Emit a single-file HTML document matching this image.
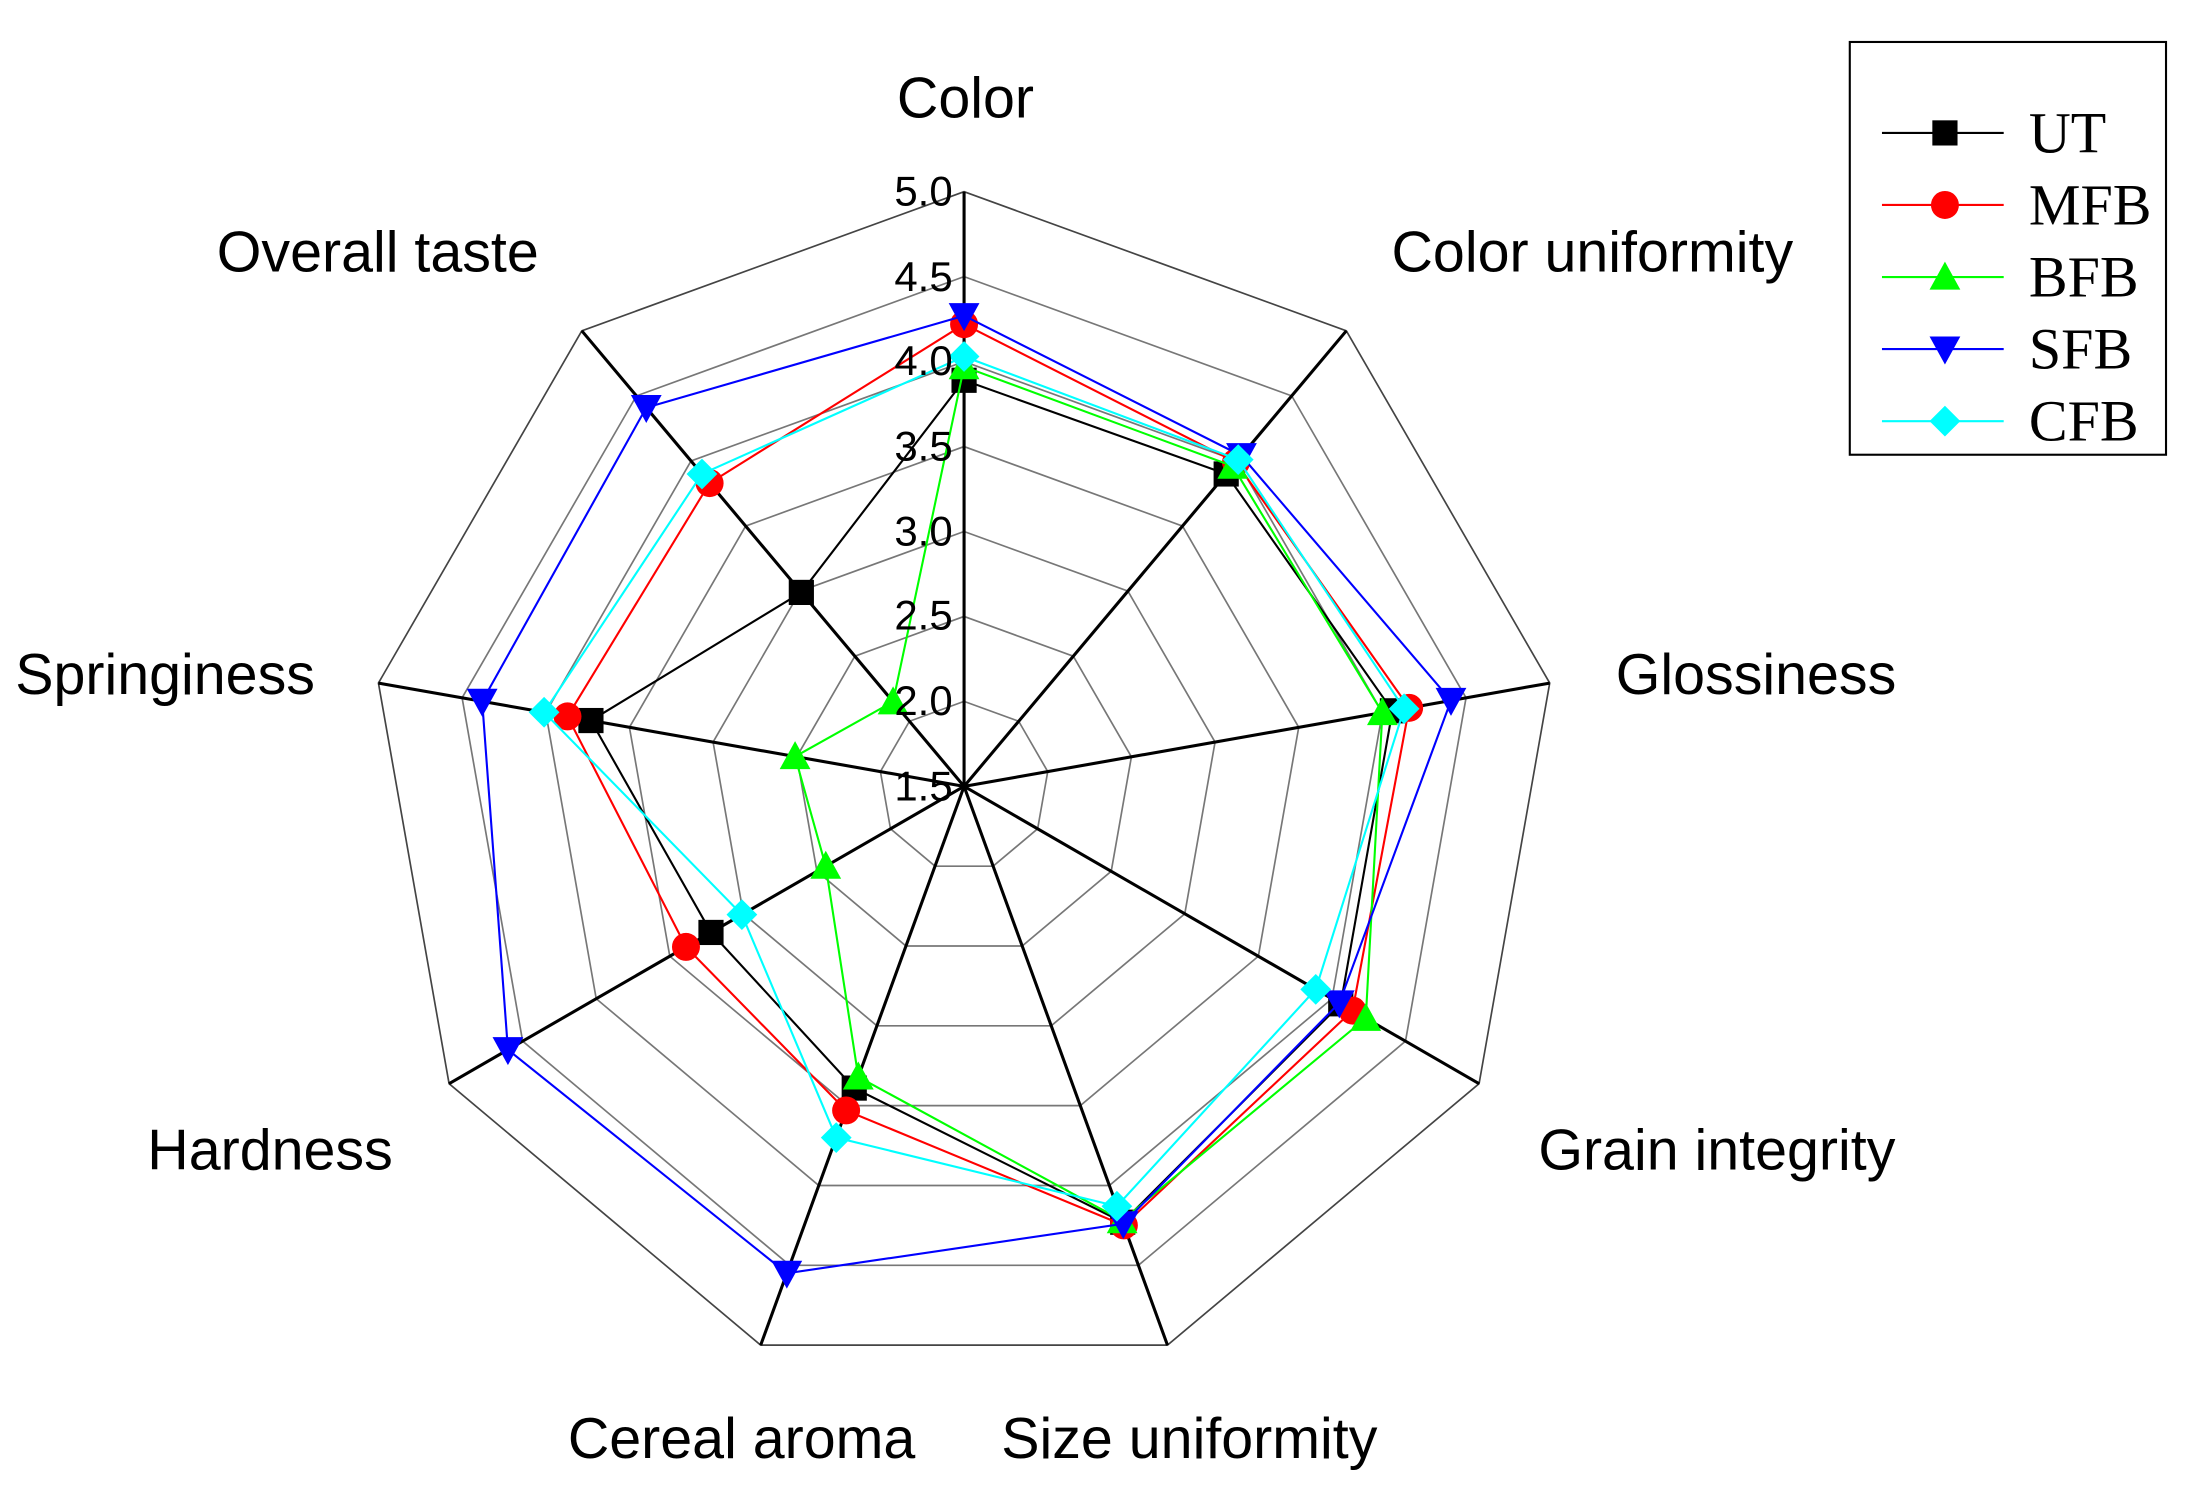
<!DOCTYPE html>
<html><head><meta charset="utf-8">
<style>html,body{margin:0;padding:0;background:#fff;}svg{display:block;}</style>
</head><body>
<svg id="s" width="2194" height="1503" viewBox="0 0 1568 1074.2" preserveAspectRatio="none" xmlns="http://www.w3.org/2000/svg">
<rect x="0" y="0" width="1568" height="1075" fill="#fff"/>
<g id="grid"></g>
<g id="series"></g>
<g font-family="Liberation Sans, Arial, sans-serif" font-size="30" fill="#000" text-anchor="middle">
<text x="660" y="147">5.0</text>
<text x="660" y="208">4.5</text>
<text x="660" y="268">4.0</text>
<text x="660" y="329">3.5</text>
<text x="660" y="390">3.0</text>
<text x="660" y="450">2.5</text>
<text x="660" y="511">2.0</text>
<text x="660" y="572">1.5</text>
</g>
<g font-family="Liberation Sans, Arial, sans-serif" font-size="41" fill="#000" text-anchor="middle">
<text x="690" y="84">Color</text>
<text x="1138" y="194">Color uniformity</text>
<text x="1255" y="496">Glossiness</text>
<text x="1227" y="836">Grain integrity</text>
<text x="850" y="1042">Size uniformity</text>
<text x="530" y="1042">Cereal aroma</text>
<text x="193" y="836">Hardness</text>
<text x="118" y="496">Springiness</text>
<text x="270" y="194">Overall taste</text>
</g>
<rect x="1322" y="30" width="226" height="295" fill="#fff" stroke="#000" stroke-width="1.5"/>
<g id="legend" font-family="Liberation Serif, Times New Roman, serif" font-size="41.5" fill="#000"></g>
</svg>
<script>
const NS="http://www.w3.org/2000/svg";
const cx=689,cy=562,R=425;
function pt(k,v){const r=(v-1.5)/3.5*R,a=k*40*Math.PI/180;return [cx+r*Math.sin(a),cy-r*Math.cos(a)];}
function el(t,at,p){const e=document.createElementNS(NS,t);for(const k in at)e.setAttribute(k,at[k]);p.appendChild(e);return e;}
const g=document.getElementById('grid');
for(let i=1;i<=7;i++){const v=1.5+i*0.5;let p=[];for(let k=0;k<9;k++)p.push(pt(k,v).join(','));
el('polygon',{points:p.join(' '),fill:'none',stroke:i==7?'#444':'#777','stroke-width':1.2},g);}
for(let k=0;k<9;k++){const q=pt(k,5);el('line',{x1:cx,y1:cy,x2:q[0],y2:q[1],stroke:'#000','stroke-width':2.2},g);}
const S=[
['UT','#000','sq',[3.89,3.90,4.06,4.06,4.23,3.39,3.22,3.73,2.99]],
['MFB','#f00','ci',[4.22,3.99,4.16,4.14,4.25,3.53,3.39,3.87,3.83]],
['BFB','#0f0','tu',[3.97,3.96,4.00,4.23,4.22,3.32,2.44,2.51,2.15]],
['SFB','#00f','td',[4.27,4.04,4.41,4.05,4.24,4.55,4.60,4.38,4.41]],
['CFB','#0ff','di',[4.03,4.01,4.13,3.89,4.13,3.70,3.01,4.01,3.90]]];
function marker(type,x,y,c,p){const s=9;
if(type=='sq')el('rect',{x:x-s,y:y-s,width:2*s,height:2*s,fill:c},p);
else if(type=='ci')el('circle',{cx:x,cy:y,r:s+1,fill:c},p);
else if(type=='tu')el('polygon',{points:`${x},${y-s-2} ${x+s+2},${y+s} ${x-s-2},${y+s}`,fill:c},p);
else if(type=='td')el('polygon',{points:`${x},${y+s+2} ${x+s+2},${y-s} ${x-s-2},${y-s}`,fill:c},p);
else el('polygon',{points:`${x},${y-s-2} ${x+s+2},${y} ${x},${y+s+2} ${x-s-2},${y}`,fill:c},p);}
const sg=document.getElementById('series'),lg=document.getElementById('legend');
S.forEach((s,i)=>{const ps=s[3].map((v,k)=>pt(k,v));
el('polygon',{points:ps.map(p=>p.join(',')).join(' '),fill:'none',stroke:s[1],'stroke-width':1.5},sg);
ps.forEach(p=>marker(s[2],p[0],p[1],s[1],sg));
const y=95+i*51.5;
el('line',{x1:1345,y1:y,x2:1432,y2:y,stroke:s[1],'stroke-width':1.5},lg);
marker(s[2],1390,y,s[1],lg);
const t=el('text',{x:1450,y:y+14},lg);t.textContent=s[0];});
</script>
</body></html>
